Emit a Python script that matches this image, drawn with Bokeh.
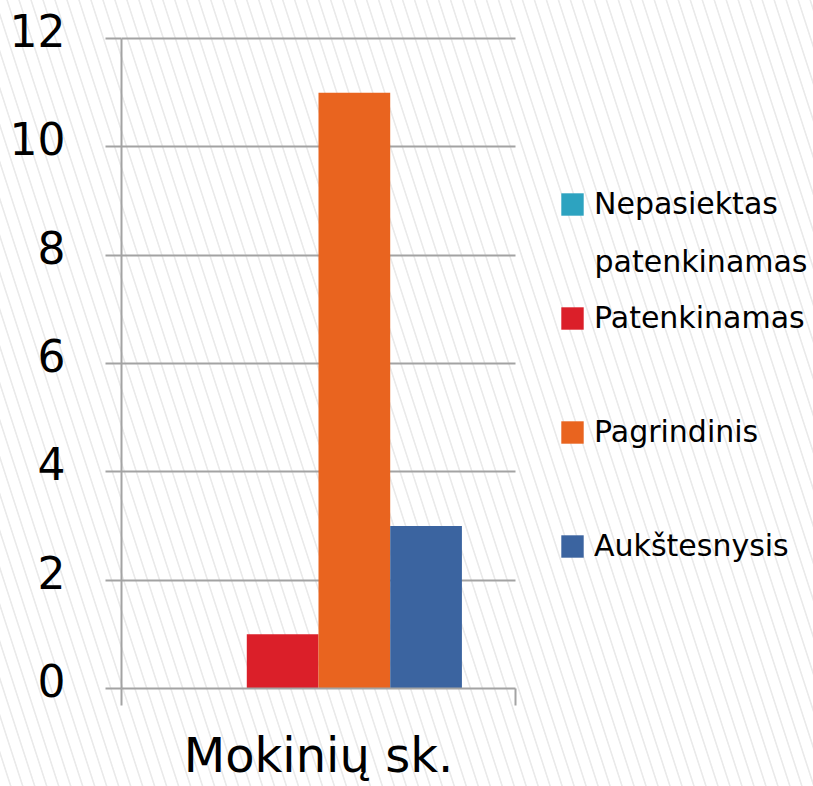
from bokeh.plotting import figure
from bokeh.models import (Range1d, LinearAxis, FixedTicker, Legend, LegendItem, Label,
                          ColumnDataSource, GlobalInlineStyleSheet)
from bokeh.transform import dodge
from bokeh.embed import file_html
from bokeh.resources import INLINE

# ---- data ----
categories = ["Mokinių sk."]
series_names = ["Nepasiektas patenkinamas", "Patenkinamas", "Pagrindinis", "Aukštesnysis"]
series_values = [0, 1, 11, 3]
series_colors = ["#2DA3C0", "#DB1F29", "#E9641F", "#3B64A0"]
y_ticks = [0, 2, 4, 6, 8, 10, 12]

FONT = "DejaVu Sans"
GRID = "#a3a3a3"

n = len(categories)
y_max = y_ticks[-1]
cat_pos = [i + 0.5 for i in range(n)]          # centre of each category slot
cat_edges = [float(i) for i in range(n + 1)]     # slot boundaries

W, H = 813, 786
LEFT, TOP, BOTTOM = 121, 28, 98
AXIS_W = 394                                     # pixel width of the category area
PX_PER_UNIT = 650 / y_max
frame_w = W - LEFT
x_end = n * frame_w / AXIS_W                     # frame extends right to hold the legend
pad = 10 / PX_PER_UNIT                           # a little room above the top grid line

p = figure(width=W, height=H, x_range=Range1d(0, x_end), y_range=Range1d(0, y_max + pad),
           output_backend="svg", toolbar_location=None, x_axis_location=None,
           y_axis_location=None,
           min_border_left=LEFT, min_border_top=TOP, min_border_right=0, min_border_bottom=BOTTOM)
p.background_fill_alpha = 0
p.border_fill_alpha = 0
p.outline_line_color = None
p.xgrid.grid_line_color = None
p.ygrid.grid_line_color = GRID
p.ygrid.grid_line_width = 2
p.ygrid.ticker = FixedTicker(ticks=y_ticks)
p.ygrid.cross_bounds = (0, n)

# y axis: line + ticks
yax = LinearAxis(ticker=FixedTicker(ticks=y_ticks), bounds=(0, y_max))
yax.major_label_overrides = {t: "" for t in y_ticks}
yax.major_label_text_font_size = "1px"
yax.major_label_standoff = 0
yax.axis_line_color = GRID
yax.axis_line_width = 2
yax.major_tick_line_color = GRID
yax.major_tick_line_width = 2
yax.major_tick_out = 16
yax.major_tick_in = 0
yax.minor_tick_line_color = None
p.add_layout(yax, "left")

# y tick labels (sit slightly above their grid lines, as in the reference)
shift = 8 / PX_PER_UNIT
p.extra_y_ranges = {"lab": Range1d(0 - shift, y_max + pad - shift)}
ylab = LinearAxis(y_range_name="lab", ticker=FixedTicker(ticks=y_ticks))
ylab.axis_line_color = None
ylab.major_tick_line_color = None
ylab.minor_tick_line_color = None
ylab.major_label_text_font = FONT
ylab.major_label_text_font_size = "44px"
ylab.major_label_text_color = "#000000"
ylab.major_label_standoff = 34
p.add_layout(ylab, "left")

# x axis with ticks at category boundaries
edge = LinearAxis(ticker=FixedTicker(ticks=cat_edges), bounds=(0, n))
edge.major_label_overrides = {e: "" for e in cat_edges}
edge.major_label_text_font_size = "1px"
edge.major_label_standoff = 0
edge.axis_line_color = GRID
edge.axis_line_width = 2
edge.major_tick_line_color = GRID
edge.major_tick_line_width = 2
edge.major_tick_out = 17
edge.major_tick_in = 0
edge.minor_tick_line_color = None
p.add_layout(edge, "below")

# category labels at the slot centres
cat = LinearAxis(ticker=FixedTicker(ticks=cat_pos))
cat.major_label_overrides = {c: lab for c, lab in zip(cat_pos, categories)}
cat.axis_line_color = None
cat.major_tick_line_color = None
cat.minor_tick_line_color = None
cat.major_label_text_font = FONT
cat.major_label_text_font_size = "48px"
cat.major_label_text_color = "#000000"
cat.major_label_standoff = 15
p.add_layout(cat, "below")

w = 0.182
offsets = [-1.5 * w, -0.5 * w, 0.5 * w, 1.5 * w]
items = []
for name, val, col, off in zip(series_names, series_values, series_colors, offsets):
    src = ColumnDataSource(dict(x=cat_pos, v=[val]))
    r = p.vbar(x=dodge("x", off), top="v", width=w, source=src,
               fill_color=col, line_color=None)
    first, _, rest = name.partition(" ")
    items.append(LegendItem(label=first, renderers=[r]))
    if rest:
        # wrapped second line of the legend entry
        p.add_layout(Label(x=1.2005, y=7.883, text=rest, text_font=FONT,
                           text_font_size="30px", text_color="#000000",
                           text_baseline="alphabetic"))

legend = Legend(items=items, location=(437, 125))
legend.border_line_color = None
legend.background_fill_alpha = 0
legend.label_text_font = FONT
legend.label_text_font_size = "30px"
legend.label_text_color = "#000000"
legend.label_height = 34
legend.glyph_width = 28
legend.glyph_height = 28
legend.label_standoff = 8
legend.spacing = 79
legend.padding = 0
legend.margin = 0
p.add_layout(legend, "center")

css = GlobalInlineStyleSheet(css="""
body { background-color: #ffffff;
  background-image: repeating-linear-gradient(72deg, #ffffff 0px, #ffffff 9px, #eaeaea 9.8px, #eaeaea 10.6px, #ffffff 11.4px); }
""")
p.stylesheets = [css]

open("out.html", "w").write(file_html(p, INLINE))
